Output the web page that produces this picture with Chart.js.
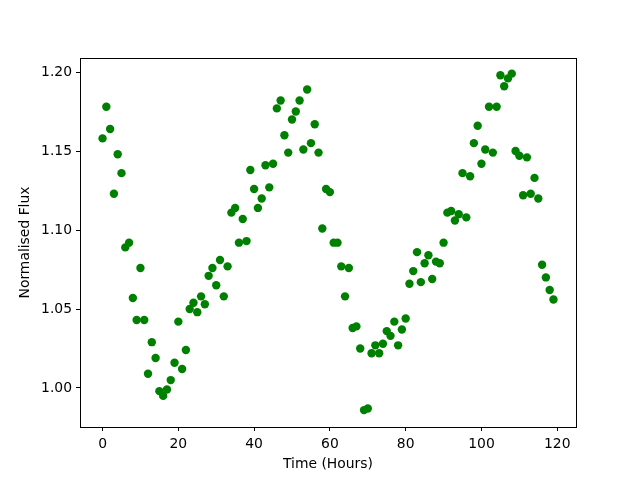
<!DOCTYPE html>
<html>
<head>
<meta charset="utf-8">
<script src="https://cdn.jsdelivr.net/npm/chart.js@4/dist/chart.umd.min.js"></script>
<style>
  html, body { margin: 0; padding: 0; background: #fff; }
  canvas { display: block; }
</style>
</head>
<body>
<canvas id="c" width="640" height="480"></canvas>
<script>
// hours 0..119, one reading per hour
const hours = Array.from({length: 120}, (_, i) => i);
const flux = [
  1.158, 1.178, 1.164, 1.123, 1.148, 1.136, 1.089, 1.092, 1.057, 1.043,
  1.076, 1.043, 1.009, 1.029, 1.019, 0.998, 0.995, 0.999, 1.005, 1.016,
  1.042, 1.012, 1.024, 1.050, 1.054, 1.048, 1.058, 1.053, 1.071, 1.076,
  1.065, 1.081, 1.058, 1.077, 1.111, 1.114, 1.092, 1.107, 1.093, 1.138,
  1.126, 1.114, 1.120, 1.141, 1.127, 1.142, 1.177, 1.182, 1.160, 1.149,
  1.170, 1.175, 1.182, 1.151, 1.189, 1.155, 1.167, 1.149, 1.101, 1.126,
  1.124, 1.092, 1.092, 1.077, 1.058, 1.076, 1.038, 1.039, 1.025, 0.986,
  0.987, 1.022, 1.027, 1.022, 1.028, 1.036, 1.033, 1.042, 1.027, 1.037,
  1.044, 1.066, 1.074, 1.086, 1.067, 1.079, 1.084, 1.069, 1.080, 1.079,
  1.092, 1.111, 1.112, 1.106, 1.110, 1.136, 1.108, 1.134, 1.155, 1.166,
  1.142, 1.151, 1.178, 1.149, 1.178, 1.198, 1.191, 1.196, 1.199, 1.150,
  1.147, 1.122, 1.146, 1.123, 1.133, 1.120, 1.078, 1.070, 1.062, 1.056
];
const xTicks = [0, 20, 40, 60, 80, 100, 120];
const yTicks = [1.00, 1.05, 1.10, 1.15, 1.20];

const font = {family: "'DejaVu Sans', sans-serif", size: 13.9};

// box round the plot area, like the matplotlib spines
const frame = {
  id: 'frame',
  afterDraw(chart) {
    const a = chart.chartArea, ctx = chart.ctx;
    ctx.save();
    ctx.strokeStyle = '#000';
    ctx.lineWidth = 1;
    ctx.strokeRect(Math.round(a.left) + 0.5, Math.round(a.top) + 0.5,
      Math.round(a.right - a.left), Math.round(a.bottom - a.top));
    ctx.restore();
  }
};

Chart.defaults.color = '#000';

new Chart(document.getElementById('c'), {
  type: 'scatter',
  data: {
    datasets: [{
      data: hours.map((h, i) => ({x: h, y: flux[i]})),
      backgroundColor: '#008000',
      borderColor: '#008000',
      borderWidth: 0,
      pointRadius: 4.2,
      pointHoverRadius: 4.2
    }]
  },
  options: {
    responsive: false,
    animation: false,
    devicePixelRatio: 1,
    layout: {padding: {left: 0, right: 64, top: 58, bottom: 0}},
    plugins: {legend: {display: false}, tooltip: {enabled: false}},
    scales: {
      x: {
        type: 'linear',
        min: -5.95, max: 124.95,
        afterBuildTicks: s => { s.ticks = xTicks.map(v => ({value: v})); },
        afterFit: s => { s.height = 53; },
        grid: {drawOnChartArea: false, drawTicks: true, tickLength: 4, color: '#000'},
        border: {display: false},
        ticks: {font, padding: 5, maxRotation: 0, callback: v => String(v)},
        title: {display: true, text: 'Time (Hours)', font, padding: {top: 0, bottom: 7}}
      },
      y: {
        type: 'linear',
        min: 0.9753, max: 1.2089,
        afterBuildTicks: s => { s.ticks = yTicks.map(v => ({value: v})); },
        afterFit: s => { s.width = 80; },
        grid: {drawOnChartArea: false, drawTicks: true, tickLength: 4, color: '#000'},
        border: {display: false},
        ticks: {font, padding: 4, callback: v => Number(v).toFixed(2)},
        title: {display: true, text: 'Normalised Flux', font, padding: {top: 17, bottom: 0}}
      }
    }
  },
  plugins: [frame]
});
</script>
</body>
</html>
